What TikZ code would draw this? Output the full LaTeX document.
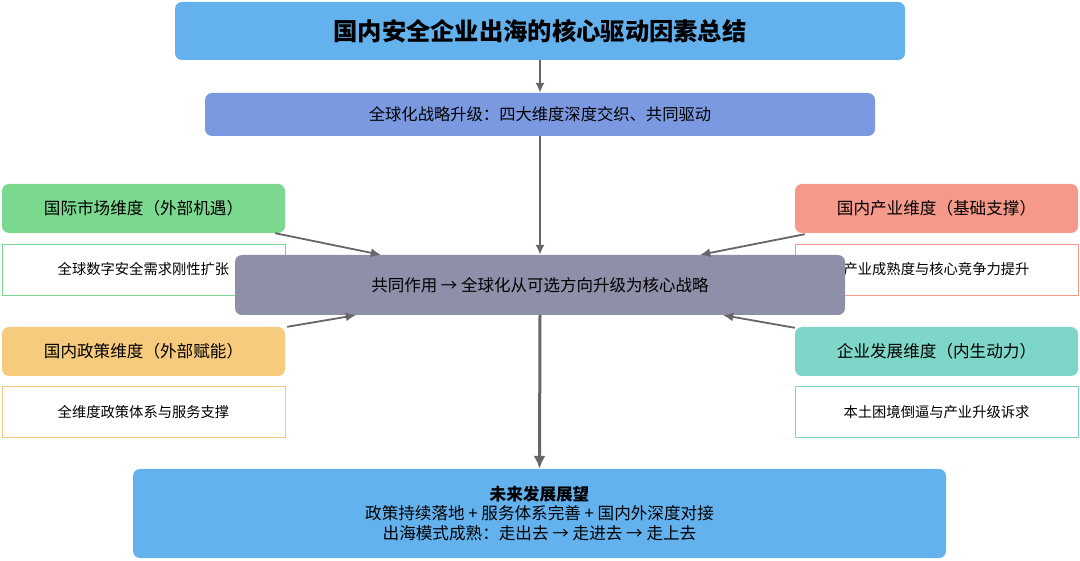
\documentclass[tikz,border=0pt]{standalone}
\usepackage{fontspec}
\setmainfont{Noto Sans CJK SC}
\usetikzlibrary{arrows.meta,calc}
\definecolor{titleblue}{HTML}{63B2ED}
\definecolor{stratblue}{HTML}{7B99E0}
\definecolor{centergray}{HTML}{8E8FA8}
\definecolor{dimgreen}{HTML}{7BD88F}
\definecolor{dimorange}{HTML}{F7CB7D}
\definecolor{dimsalmon}{HTML}{F59A8B}
\definecolor{dimteal}{HTML}{7DD6C8}
\definecolor{arrowgray}{HTML}{666666}
\tikzset{
  filledbox/.style={fill=#1, draw=none, rounded corners=7pt, inner sep=0pt, align=center, text=black},
  dimbox/.style={filledbox=#1, minimum width=283pt, minimum height=49pt, font=\fontsize{16.6}{19}\selectfont},
  subbox/.style={draw=#1, fill=white, line width=0.9pt, minimum width=283pt, minimum height=51pt, inner sep=0pt, font=\fontsize{14.3}{17}\selectfont},
  conn/.style={draw=arrowgray, line width=1.8pt, -{Latex[length=10pt,width=9pt]}},
  bigconn/.style={draw=arrowgray, line width=3pt, -{Latex[length=13pt,width=12pt]}}
}
\begin{document}
\begin{tikzpicture}[x=1pt,y=-1pt]
\useasboundingbox[fill=white] (0,0) rectangle (1080,561);

\node[filledbox=titleblue, minimum width=730pt, minimum height=58pt, font=\fontsize{24.3}{28}\selectfont\bfseries] (title) at (540,31) {国内安全企业出海的核心驱动因素总结};
\node[filledbox=stratblue, minimum width=670pt, minimum height=43pt, font=\fontsize{16.3}{19}\selectfont] (strat) at (540,114.5) {全球化战略升级：四大维度深度交织、共同驱动};

\node[dimbox=dimgreen] (market) at (143.5,208.5) {国际市场维度（外部机遇）};
\node[subbox=dimgreen] (marketsub) at (143.5,269.5) {全球数字安全需求刚性扩张};
\node[dimbox=dimorange] (policy) at (143.5,351.5) {国内政策维度（外部赋能）};
\node[subbox=dimorange] (policysub) at (143.5,412) {全维度政策体系与服务支撑};

\node[dimbox=dimsalmon] (industry) at (936.5,208.5) {国内产业维度（基础支撑）};
\node[subbox=dimsalmon] (industrysub) at (936.5,269.5) {产业成熟度与核心竞争力提升};
\node[dimbox=dimteal] (enterprise) at (936.5,351.5) {企业发展维度（内生动力）};
\node[subbox=dimteal] (enterprisesub) at (936.5,412) {本土困境倒逼与产业升级诉求};

\node[filledbox=centergray, minimum width=610pt, minimum height=60pt, font=\fontsize{16.5}{19}\selectfont] (center) at (540,285) {共同作用 → 全球化从可选方向升级为核心战略};

\node[filledbox=titleblue, minimum width=813pt, minimum height=89pt, font=\fontsize{16.6}{19.5}\selectfont] (future) at (539.5,513.5) {{\bfseries 未来发展展望}\\政策持续落地 + 服务体系完善 + 国内外深度对接\\出海模式成熟：走出去 → 走进去 → 走上去};

\draw[conn] (title.south) -- (strat.north);
\draw[conn] (strat.south) -- (center.north);
\draw[conn] ($(market.south east)+(-10,0)$) -- ($(center.north west)+(146,0)$);
\draw[conn] ($(policy.north east)+(2,0)$) -- ($(center.south west)+(121,0)$);
\draw[conn] ($(industry.south west)+(10,1)$) -- ($(center.north east)+(-145,0)$);
\draw[conn] ($(enterprise.north west)+(0,1)$) -- ($(center.south east)+(-122,0)$);
\draw[bigconn] (center.south) -- (future.north);
\end{tikzpicture}
\end{document}
